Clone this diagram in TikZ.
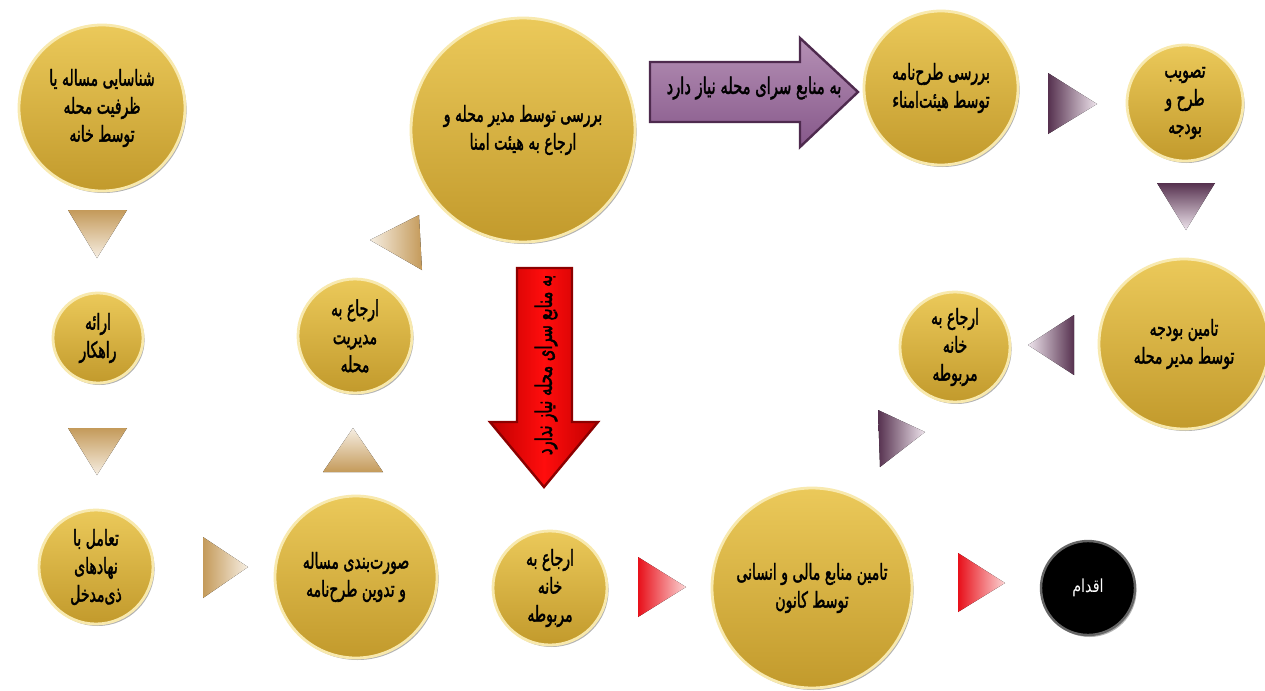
\documentclass[tikz,border=0pt]{standalone}
\usepackage{fontspec}
\newfontfamily\arabicfont[Script=Arabic,FakeStretch=0.64,FakeBold=1.6]{DejaVu Sans}
\newfontfamily\arabicthin[Script=Arabic,FakeStretch=0.8]{DejaVu Sans}
\TeXXeTstate=1
\usetikzlibrary{shadows}
\newcommand{\fa}[1]{\beginR#1\endR}
\definecolor{goldL}{HTML}{EBC95A}
\definecolor{goldD}{HTML}{C29A2C}
\definecolor{goldRim}{HTML}{F8E9AE}
\definecolor{tanD}{HTML}{C49A5A}
\definecolor{tanL}{HTML}{F6EEE2}
\definecolor{purD}{HTML}{56314F}
\definecolor{purL}{HTML}{EEE4EC}
\definecolor{redD}{HTML}{E8101A}
\definecolor{redL}{HTML}{FBD4D4}
\definecolor{arrPurT}{HTML}{B590B5}
\definecolor{arrPurB}{HTML}{86588A}
\definecolor{arrPurE}{HTML}{4E2A4E}
\tikzset{
  gold/.style={circle, inner sep=0pt, top color=goldL, bottom color=goldD,
    draw=goldRim, line width=1.4pt, align=center, text=black,
    font=\arabicfont\fontsize{11}{14}\selectfont,
    drop shadow={shadow xshift=0.8pt, shadow yshift=-1pt, opacity=0.3, fill=black}},
  blackball/.style={circle, inner sep=0pt, fill=black, draw=black!60, line width=1.2pt,
    text=white, font=\arabicthin\fontsize{9}{12}\selectfont,
    drop shadow={shadow xshift=0.8pt, shadow yshift=-1pt, opacity=0.3, fill=black}},
  tanR/.style={left color=tanD, right color=tanL, draw=none},
  tanDn/.style={top color=tanD, bottom color=tanL, draw=none},
  tanUp/.style={bottom color=tanD, top color=tanL, draw=none},
  tanLf/.style={right color=tanD, left color=tanL, draw=none},
  purR/.style={left color=purD, right color=purL, draw=none},
  purDn/.style={top color=purD, bottom color=purL, draw=none},
  purLf/.style={right color=purD, left color=purL, draw=none},
  redR/.style={left color=redD, right color=redL, draw=none},
  arrtext/.style={font=\arabicfont\fontsize{11.5}{14}\selectfont, text=black, inner sep=0pt},
}
\begin{document}
\begin{tikzpicture}[x=0.5pt,y=-0.5pt]
\fill[white] (0,0) rectangle (1265,691);
\useasboundingbox (0,0) rectangle (1265,691);

% circles
\node[gold, minimum size=83pt] (c1) at (102,108) {\fa{شناسایی مساله یا}\\\fa{ظرفیت محله}\\\fa{توسط خانه}};
\node[gold, minimum size=45pt] (c2) at (98,338) {\fa{ارائه}\\\fa{راهکار}};
\node[gold, minimum size=57pt] (c3) at (96,567) {\fa{تعامل با}\\\fa{نهادهای}\\\fa{ذی‌مدخل}};
\node[gold, minimum size=81pt] (c4) at (356,577) {\fa{صورت‌بندی مساله}\\\fa{و تدوین طرح‌نامه}};
\node[gold, minimum size=57pt] (c5) at (355,336) {\fa{ارجاع به}\\\fa{مدیریت}\\\fa{محله}};
\node[gold, minimum size=112pt] (c6) at (523,130) {\fa{بررسی توسط مدیر محله و}\\\fa{ارجاع به هیئت امنا}};
\node[gold, minimum size=77pt] (c7) at (941,88) {\fa{بررسی طرح‌نامه}\\\fa{توسط هیئت‌امناء}};
\node[gold, minimum size=58pt] (c8) at (1185,103) {\fa{تصویب}\\\fa{طرح و}\\\fa{بودجه}};
\node[gold, minimum size=85pt] (c9) at (1184,344) {\fa{تامین بودجه}\\\fa{توسط مدیر محله}};
\node[gold, minimum size=55pt] (c10) at (955,347) {\fa{ارجاع به}\\\fa{خانه}\\\fa{مربوطه}};
\node[gold, minimum size=57pt] (c11) at (550,588) {\fa{ارجاع به}\\\fa{خانه}\\\fa{مربوطه}};
\node[gold, minimum size=100pt] (c12) at (812,588) {\fa{تامین منابع مالی و انسانی}\\\fa{توسط کانون}};
\node[blackball, minimum size=47pt] (c13) at (1088,588) {\fa{اقدام}};

% triangle connectors
\fill[tanDn] (68,210) -- (127,210) -- (97,258) -- cycle;
\fill[tanDn] (68,428) -- (127,428) -- (97,475) -- cycle;
\fill[tanR] (203,537) -- (203,598) -- (248,567) -- cycle;
\fill[tanUp] (323,472) -- (383,472) -- (353,428) -- cycle;
\fill[tanLf] (370,240) -- (419,215) -- (422,270) -- cycle;
\fill[purR] (1048,73) -- (1048,134) -- (1097,104) -- cycle;
\fill[purDn] (1157,183) -- (1215,183) -- (1186,230) -- cycle;
\fill[purLf] (1074,315) -- (1074,375) -- (1028,345) -- cycle;
\fill[purR] (878,410) -- (925,432) -- (880,467) -- cycle;
\fill[redR] (638,557) -- (638,617) -- (686,587) -- cycle;
\fill[redR] (958,553) -- (958,612) -- (1005,583) -- cycle;

% purple block arrow
\filldraw[top color=arrPurT, bottom color=arrPurB, draw=arrPurE, line width=1.2pt]
  (650,62) -- (800,62) -- (800,38) -- (858,92) -- (800,147) -- (800,122) -- (650,122) -- cycle;
\node[arrtext] (ta) at (754,88) {\fa{به منابع سرای محله نیاز دارد}};

% red block arrow
\filldraw[left color=red!75!black, right color=red!75!black, middle color=red!95, draw=red!55!black, line width=1.2pt]
  (517,268) -- (572,268) -- (572,422) -- (598,422) -- (544,487) -- (490,422) -- (517,422) -- cycle;
\node[arrtext, rotate=90] (tb) at (546,365) {\fa{به منابع سرای محله نیاز ندارد}};
\end{tikzpicture}
\end{document}
